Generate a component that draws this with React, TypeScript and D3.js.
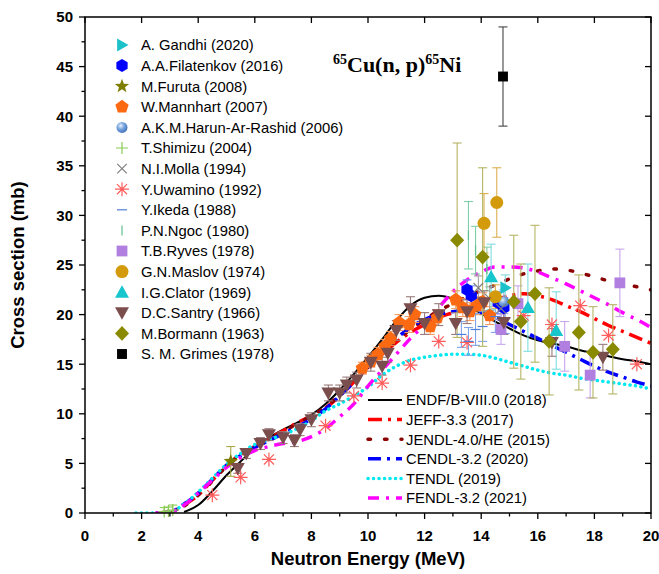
import React from 'react';
import * as d3 from 'd3';

// ---------- Evaluated libraries (cross section in mb on a common energy grid, MeV) ----------
const gridE = [1.8, 2.5, 3.0, 3.5, 4.0, 4.5, 5.0, 5.5, 6.0, 6.5, 7.0, 7.5, 8.0, 8.5, 9.0, 9.5, 10.0, 10.5, 11.0, 11.5, 12.0, 12.5, 13.0, 13.5, 14.0, 14.5, 15.0, 15.5, 16.0, 16.5, 17.0, 17.5, 18.0, 18.5, 19.0, 19.5, 20.0];
const endf = [null, null, null, 0.1, 0.8, 2.2, 3.8, 5.2, 6.5, 7.6, 8.4, 9.1, 9.9, 11.0, 12.4, 14.0, 15.7, 17.5, 19.4, 20.9, 21.7, 21.9, 21.6, 20.9, 20.1, 19.3, 18.6, 17.9, 17.4, 17.1, 16.8, 16.4, 16.1, 15.8, 15.5, 15.3, 15.0];
const jeff = [null, 0, 0.1, 0.8, 1.8, 3.3, 4.8, 5.9, 6.7, 7.5, 8.3, 9.1, 9.8, 10.6, 11.8, 13.2, 14.7, 16.0, 17.2, 18.2, 19.0, 19.7, 20.2, 20.7, 21.1, 21.5, 21.9, 22.1, 21.9, 21.5, 20.9, 20.3, 19.6, 18.9, 18.3, 17.7, 17.1];
const jendl = [null, null, 0, 0.7, 1.8, 3.2, 4.7, 5.8, 6.6, 7.4, 8.2, 9.0, 9.8, 10.7, 11.9, 13.3, 14.7, 16.1, 17.4, 18.5, 19.5, 20.4, 21.1, 21.8, 22.4, 23.0, 23.6, 24.1, 24.4, 24.6, 24.5, 24.2, 23.8, 23.4, 23.1, 22.8, 22.5];
const cendl = [null, 0, 0.1, 0.9, 2.0, 3.4, 4.8, 5.8, 6.6, 7.3, 8.0, 8.7, 9.5, 10.5, 11.8, 13.2, 14.8, 16.3, 17.6, 18.7, 19.5, 20.0, 20.3, 20.4, 20.2, 19.7, 19.0, 18.3, 17.6, 16.9, 16.2, 15.5, 14.8, 14.2, 13.7, 13.2, 12.8];
const tendl = [0, 0, 0.1, 0.9, 2.1, 3.5, 4.9, 6.0, 6.9, 7.4, 7.9, 8.5, 9.3, 10.3, 11.0, 11.8, 12.7, 13.9, 14.8, 15.4, 15.7, 15.9, 16.0, 16.0, 15.9, 15.6, 15.2, 14.8, 14.4, 14.1, 13.9, 13.6, 13.4, 13.2, 13.0, 12.8, 12.5];
const fendl = [null, 0, 0.1, 0.8, 2.0, 3.3, 4.6, 5.6, 6.3, 6.7, 7.0, 7.2, 7.7, 8.5, 9.7, 11.0, 12.8, 14.4, 16.0, 17.6, 19.0, 20.7, 22.3, 23.5, 24.3, 24.8, 24.8, 24.7, 24.3, 23.7, 23.1, 22.4, 21.7, 21.0, 20.2, 19.5, 18.7];

// ---------- Experimental data (E MeV, sigma mb, error mb) ----------
const gandhiE = [14.85]; const gandhiS = [22.7]; const gandhiErr = [1.3];
const filatE = [13.5, 13.65, 14.6, 14.8]; const filatS = [22.5, 21.9, 21.2, 20.7]; const filatErr = [1.0, 1.0, 1.1, 1.0];
const furutaE = [5.15]; const furutaS = [5.2]; const furutaErr = [1.5];
const mannE = [9.8, 10.1, 10.35, 10.6, 10.8, 11.1, 11.45, 11.65, 12.2, 12.45, 13.1, 13.35, 13.6, 13.85, 14.05, 14.3];
const mannS = [14.6, 15.3, 16.0, 16.8, 17.6, 19.2, 19.0, 20.0, 18.8, 19.7, 21.5, 20.7, 20.3, 20.9, 21.3, 19.9];
const mannErr = [0.6, 0.6, 0.7, 0.7, 0.7, 0.8, 0.8, 0.8, 0.8, 0.8, 0.9, 0.9, 0.9, 0.9, 0.9, 0.9];
const harunE = [14.8]; const harunS = [21.3]; const harunErr = [1.2];
const shimizuE = [2.8, 2.95, 3.1]; const shimizuS = [0.15, 0.2, 0.3]; const shimizuErr = [0.4, 0.4, 0.5];
const mollaE = [13.9, 14.3, 14.7]; const mollaS = [22.7, 21.6, 20.6]; const mollaErr = [1.2, 1.2, 1.1];
const uwaminoE = [4.5, 5.5, 6.5, 8.5, 9.5, 10.5, 11.5, 12.5, 13.5, 15.5, 16.5, 17.5, 18.5, 19.5];
const uwaminoS = [1.8, 3.6, 5.4, 8.8, 11.8, 13.1, 14.9, 17.3, 17.2, 19.9, 19.0, 20.9, 17.9, 15.0];
const ikedaE = [13.3, 13.55, 13.8, 14.05, 14.5, 14.85]; const ikedaS = [18.0, 17.3, 18.5, 18.8, 19.8, 19.6]; const ikedaErr = [1.3, 1.4, 1.6, 1.5, 1.6, 1.5];
const ngocE = [13.55, 13.8, 14.2]; const ngocS = [28.0, 26.5, 24.6]; const ngocErr = [3.4, 2.4, 2.2];
const ryvesE = [14.7, 15.3, 16.95, 17.85, 18.9]; const ryvesS = [18.5, 21.1, 16.8, 13.9, 23.2]; const ryvesErr = [1.5, 1.8, 2.5, 2.3, 3.4];
const maslovE = [14.1, 14.55, 14.5]; const maslovS = [29.2, 31.3, 21.8]; const maslovErr = [3.0, 3.5, 1.2];
const clatorE = [14.35, 15.65, 16.65]; const clatorS = [23.8, 20.7, 18.4]; const clatorErr = [3.3, 4.4, 3.9];
const santryE = [5.4, 5.7, 6.2, 6.5, 7.0, 7.4, 7.6, 8.0, 8.6, 9.0, 9.25, 9.6, 10.1, 10.5, 10.7, 11.0, 11.5, 12.0, 12.5, 13.1, 13.5, 14.1, 14.8, 16.5, 18.3];
const santryS = [4.5, 6.0, 7.0, 7.9, 7.6, 7.3, 8.4, 9.4, 12.1, 12.1, 12.9, 13.4, 15.2, 14.8, 16.1, 18.4, 20.6, 19.1, 20.0, 19.1, 20.3, 21.2, 19.2, 17.2, 15.7];
const santryErr = [0.5, 0.5, 0.6, 0.6, 0.6, 0.6, 0.6, 0.7, 0.8, 0.8, 0.8, 0.8, 0.9, 0.9, 0.9, 1.0, 1.2, 1.1, 1.1, 1.1, 1.2, 1.2, 1.2, 1.4, 1.3];
const bormannE = [13.15, 14.05, 15.15, 15.4, 15.9, 16.4, 17.45, 17.95, 18.65];
const bormannS = [27.5, 25.8, 21.3, 19.3, 22.1, 17.3, 18.2, 16.2, 16.5];
const bormannErr = [9.8, 9.0, 6.7, 5.8, 6.9, 5.4, 5.8, 4.6, 4.5];
const grimesE = [14.77]; const grimesS = [44.0]; const grimesErr = [5.0];

const xTicks = [0, 2, 4, 6, 8, 10, 12, 14, 16, 18, 20];
const yTicks = [0, 5, 10, 15, 20, 25, 30, 35, 40, 45, 50];

const FONT = 'Liberation Sans, Arial, sans-serif';

type Series = { name: string; E: number[]; S: number[]; Err?: number[]; kind: string; size: number; fill: string; stroke?: string; errColor: string; };

const seriesList: Series[] = [
  { name: 'A. Gandhi (2020)', E: gandhiE, S: gandhiS, Err: gandhiErr, kind: 'triR', size: 13, fill: '#1cc1c9', errColor: '#7fd8dd' },
  { name: 'A.A.Filatenkov (2016)', E: filatE, S: filatS, Err: filatErr, kind: 'hex', size: 13, fill: '#0000ff', errColor: '#6a8ff0' },
  { name: 'M.Furuta (2008)', E: furutaE, S: furutaS, Err: furutaErr, kind: 'star', size: 15, fill: '#7d7d00', errColor: '#a8a84a' },
  { name: 'W.Mannhart (2007)', E: mannE, S: mannS, Err: mannErr, kind: 'pent', size: 14, fill: '#fb6a12', errColor: '#f39a60' },
  { name: 'A.K.M.Harun-Ar-Rashid (2006)', E: harunE, S: harunS, Err: harunErr, kind: 'sphere', size: 11, fill: 'url(#sph)', errColor: '#8fb0e0' },
  { name: 'T.Shimizu (2004)', E: shimizuE, S: shimizuS, Err: shimizuErr, kind: 'plus', size: 12, fill: 'none', stroke: '#8acb55', errColor: '#8acb55' },
  { name: 'N.I.Molla (1994)', E: mollaE, S: mollaS, Err: mollaErr, kind: 'cross', size: 12, fill: 'none', stroke: '#808080', errColor: '#a0a0a0' },
  { name: 'Y.Uwamino (1992)', E: uwaminoE, S: uwaminoS, kind: 'aster', size: 14, fill: 'none', stroke: '#ff5c5c', errColor: '#ff9090' },
  { name: 'Y.Ikeda (1988)', E: ikedaE, S: ikedaS, Err: ikedaErr, kind: 'hdash', size: 10, fill: 'none', stroke: '#4f7fd8', errColor: '#7ea3e6' },
  { name: 'P.N.Ngoc (1980)', E: ngocE, S: ngocS, Err: ngocErr, kind: 'vdash', size: 10, fill: 'none', stroke: '#5cc08e', errColor: '#7fcfa6' },
  { name: 'T.B.Ryves (1978)', E: ryvesE, S: ryvesS, Err: ryvesErr, kind: 'square', size: 12, fill: '#b07fe0', errColor: '#c9a6ec' },
  { name: 'G.N.Maslov (1974)', E: maslovE, S: maslovS, Err: maslovErr, kind: 'circle', size: 13, fill: '#d39b0c', errColor: '#ddb052' },
  { name: 'I.G.Clator (1969)', E: clatorE, S: clatorS, Err: clatorErr, kind: 'triU', size: 14, fill: '#16c6cc', errColor: '#7fdde0' },
  { name: 'D.C.Santry (1966)', E: santryE, S: santryS, Err: santryErr, kind: 'triD', size: 14, fill: '#7b4e4e', errColor: '#9a7a7a' },
  { name: 'M.Bormann (1963)', E: bormannE, S: bormannS, Err: bormannErr, kind: 'diamond', size: 14, fill: '#8a8a00', errColor: '#b5b565' },
  { name: 'S. M. Grimes (1978)', E: grimesE, S: grimesS, Err: grimesErr, kind: 'square', size: 11, fill: '#000000', errColor: '#444444' },
];

type Lib = { name: string; vals: (number | null)[]; color: string; width: number; dash: string; cap: string };
const libs: Lib[] = [
  { name: 'ENDF/B-VIII.0 (2018)', vals: endf, color: '#000000', width: 2, dash: 'none', cap: 'butt' },
  { name: 'JEFF-3.3 (2017)', vals: jeff, color: '#ff0000', width: 3.5, dash: '14 6 3 6', cap: 'butt' },
  { name: 'JENDL-4.0/HE (2015)', vals: jendl, color: '#8b0000', width: 3.5, dash: '2.5 14', cap: 'round' },
  { name: 'CENDL-3.2 (2020)', vals: cendl, color: '#0000ff', width: 3.5, dash: '13 6 3 6', cap: 'butt' },
  { name: 'TENDL (2019)', vals: tendl, color: '#00e8f0', width: 3.5, dash: '0.1 5.4', cap: 'round' },
  { name: 'FENDL-3.2 (2021)', vals: fendl, color: '#ff00ff', width: 3.5, dash: '11 7 3 7', cap: 'butt' },
];

function poly(pts: number[][]): string {
  return 'M' + pts.map(p => p[0].toFixed(2) + ',' + p[1].toFixed(2)).join('L') + 'Z';
}
function regular(n: number, r: number, rot: number): number[][] {
  const out: number[][] = [];
  for (let i = 0; i < n; i++) {
    const a = rot + (i * 2 * Math.PI) / n;
    out.push([r * Math.cos(a), r * Math.sin(a)]);
  }
  return out;
}

function symbolPath(kind: string, s: number): string {
  const r = s / 2;
  switch (kind) {
    case 'triR': return poly([[-r * 0.75, -r], [r, 0], [-r * 0.75, r]]);
    case 'triU': return poly([[0, -r], [r, r * 0.78], [-r, r * 0.78]]);
    case 'triD': return poly([[-r, -r * 0.78], [r, -r * 0.78], [0, r]]);
    case 'hex': return poly(regular(6, r, -Math.PI / 2));
    case 'pent': return poly(regular(5, r, -Math.PI / 2));
    case 'star': {
      const pts: number[][] = [];
      for (let i = 0; i < 10; i++) {
        const a = -Math.PI / 2 + (i * Math.PI) / 5;
        const rr = i % 2 === 0 ? r : r * 0.42;
        pts.push([rr * Math.cos(a), rr * Math.sin(a)]);
      }
      return poly(pts);
    }
    case 'diamond': return poly([[0, -r * 1.05], [r, 0], [0, r * 1.05], [-r, 0]]);
    case 'square': return poly([[-r * 0.9, -r * 0.9], [r * 0.9, -r * 0.9], [r * 0.9, r * 0.9], [-r * 0.9, r * 0.9]]);
    case 'circle':
    case 'sphere': return d3.symbol().type(d3.symbolCircle).size(Math.PI * r * r)() as string;
    case 'plus': return `M${-r},0L${r},0M0,${-r}L0,${r}`;
    case 'cross': { const q = r * 0.8; return `M${-q},${-q}L${q},${q}M${-q},${q}L${q},${-q}`; }
    case 'aster': {
      const q = r * 0.72;
      return `M0,${-r}L0,${r}M${-r},0L${r},0M${-q},${-q}L${q},${q}M${-q},${q}L${q},${-q}`;
    }
    case 'hdash': return `M${-r},0L${r},0`;
    case 'vdash': return `M0,${-r}L0,${r}`;
    default: return '';
  }
}

function Marker({ s, x, y }: { s: Series; x: number; y: number }) {
  const line = s.fill === 'none';
  return (
    <path
      d={symbolPath(s.kind, s.size)}
      transform={`translate(${x},${y})`}
      fill={s.fill}
      stroke={line ? s.stroke : 'none'}
      strokeWidth={line ? 1.2 : 0}
    />
  );
}

export default function App() {
  const W = 659, H = 574;
  const x = d3.scaleLinear().domain([0, 20]).range([85, 651]);
  const y = d3.scaleLinear().domain([0, 50]).range([513, 17]);

  const lineGen = d3.line<[number, number | null]>()
    .defined(d => d[1] !== null)
    .x(d => x(d[0]))
    .y(d => y(d[1] as number))
    .curve(d3.curveMonotoneX);

  const xMinor = d3.range(0, 21, 1);
  const yMinor = d3.range(0, 50.1, 2.5);
  const [x0, x1] = x.range();
  const [y0, y1] = y.range();

  const legendY0 = 45, legendDY = 20.6;
  const libLegendY0 = 400, libLegendDY = 19.6;

  return (
    <svg width={W} height={H} style={{ position: 'absolute', left: 0, top: 0, background: '#fff' }} fontFamily={FONT}>
      <defs>
        <radialGradient id="sph" cx="0.38" cy="0.35" r="0.7">
          <stop offset="0" stopColor="#e8f0fb" />
          <stop offset="0.45" stopColor="#7aa6df" />
          <stop offset="1" stopColor="#3d6fb8" />
        </radialGradient>
        <clipPath id="plotClip">
          <rect x={x0} y={y1} width={x1 - x0} height={y0 - y1} />
        </clipPath>
      </defs>
      <rect width={W} height={H} fill="#fff" />

      {/* evaluated curves */}
      <g clipPath="url(#plotClip)">
        {libs.map(l => (
          <path
            key={l.name}
            d={lineGen(gridE.map((e, i) => [e, l.vals[i]] as [number, number | null])) || ''}
            fill="none"
            stroke={l.color}
            strokeWidth={l.width}
            strokeDasharray={l.dash}
            strokeLinecap={l.cap as any}
          />
        ))}
      </g>

      {/* error bars */}
      <g clipPath="url(#plotClip)">
        {seriesList.map(s => s.Err ? s.E.map((e, i) => {
          const cx = x(e), top = y(s.S[i] + s.Err![i]), bot = y(Math.max(0, s.S[i] - s.Err![i]));
          return (
            <g key={s.name + i} stroke={s.errColor} strokeWidth={1.1}>
              <line x1={cx} x2={cx} y1={top} y2={bot} />
              <line x1={cx - 4.5} x2={cx + 4.5} y1={top} y2={top} />
              <line x1={cx - 4.5} x2={cx + 4.5} y1={bot} y2={bot} />
            </g>
          );
        }) : null)}
      </g>

      {/* markers */}
      <g>
        {seriesList.map(s => s.E.map((e, i) => (
          <Marker key={s.name + 'm' + i} s={s} x={x(e)} y={y(s.S[i])} />
        )))}
      </g>

      {/* frame */}
      <rect x={x0} y={y1} width={x1 - x0} height={y0 - y1} fill="none" stroke="#000" strokeWidth={1.5} />

      {/* bottom ticks */}
      {xMinor.map(v => (
        <line key={'xm' + v} x1={x(v)} x2={x(v)} y1={y0} y2={y0 + (v % 2 === 0 ? 6 : 3.5)} stroke="#000" strokeWidth={1.3} />
      ))}
      {/* top ticks (inward) */}
      {xTicks.map(v => (
        <line key={'xt' + v} x1={x(v)} x2={x(v)} y1={y1} y2={y1 + 6} stroke="#000" strokeWidth={1.3} />
      ))}
      {xTicks.map(v => (
        <text key={'xl' + v} x={x(v)} y={541} textAnchor="middle" fontSize={15} fontWeight="bold">{v}</text>
      ))}
      {/* left ticks */}
      {yMinor.map(v => (
        <line key={'ym' + v} x1={x0} x2={x0 - (v % 5 === 0 ? 6 : 3.5)} y1={y(v)} y2={y(v)} stroke="#000" strokeWidth={1.3} />
      ))}
      {/* right ticks (inward) */}
      {yTicks.map(v => (
        <line key={'yr' + v} x1={x1} x2={x1 - 6} y1={y(v)} y2={y(v)} stroke="#000" strokeWidth={1.3} />
      ))}
      {yTicks.map(v => (
        <text key={'yl' + v} x={73} y={y(v)} dy="0.36em" textAnchor="end" fontSize={15} fontWeight="bold">{v}</text>
      ))}

      {/* axis titles */}
      <text x={(x0 + x1) / 2} y={565} textAnchor="middle" fontSize={18.5} fontWeight="bold">Neutron Energy (MeV)</text>
      <text transform={`translate(24,${(y0 + y1) / 2}) rotate(-90)`} textAnchor="middle" fontSize={18.5} fontWeight="bold">Cross section (mb)</text>

      {/* reaction title */}
      <text x={333} y={72} fontFamily="Liberation Serif, Times New Roman, serif" fontWeight="bold" fontSize={22}>
        <tspan fontSize={14} dy={-8}>65</tspan>
        <tspan dy={8}>Cu(n, p)</tspan>
        <tspan fontSize={14} dy={-8}>65</tspan>
        <tspan dy={8}>Ni</tspan>
      </text>

      {/* experimental legend */}
      {seriesList.map((s, i) => {
        const ly = legendY0 + i * legendDY;
        return (
          <g key={'leg' + s.name}>
            <Marker s={s} x={122} y={ly} />
            <text x={141} y={ly} dy="0.36em" fontSize={14.8}>{s.name}</text>
          </g>
        );
      })}

      {/* library legend */}
      {libs.map((l, i) => {
        const ly = libLegendY0 + i * libLegendDY;
        return (
          <g key={'lleg' + l.name}>
            <line x1={368} x2={402} y1={ly} y2={ly} stroke={l.color} strokeWidth={l.width} strokeDasharray={l.dash} strokeLinecap={l.cap as any} />
            <text x={406} y={ly} dy="0.36em" fontSize={14.8}>{l.name}</text>
          </g>
        );
      })}
    </svg>
  );
}
